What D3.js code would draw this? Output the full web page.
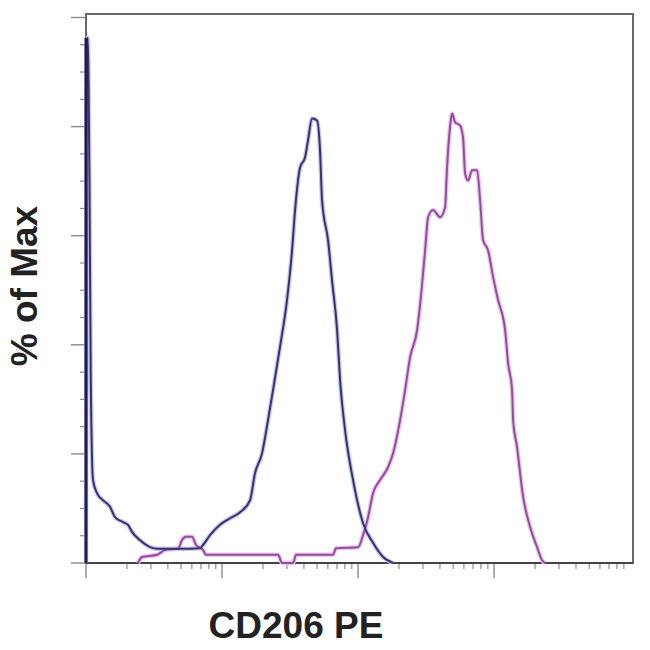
<!DOCTYPE html>
<html><head><meta charset="utf-8">
<script src="https://cdn.jsdelivr.net/npm/d3@7"></script>
<style>body{margin:0;background:#fff}</style>
</head><body>
<svg id="c" width="650" height="650"></svg>
<script>
// Control (blue) histogram: channel value, % of max
const blueX = [10, 10.1, 10.3, 10.6, 10.85, 11.26, 12.05, 13.34, 15.02, 16.34, 18.71, 20.36, 21.8, 24.9, 29.6, 33.3, 49.1, 68.9, 72.5, 81.6, 96.7, 114.5, 135.6, 160.6, 174.9, 196.8, 217.8, 237.1, 266.8, 300.3, 327.2, 344.3, 374.7, 407.8, 428.9, 459.0, 499.6, 525.5, 543.6, 601.5, 643.8, 701.3, 737.8, 802.0, 918.9, 1088, 1289, 1527, 1809];
const blueY = [0, 94, 96.3, 70, 33, 15.2, 12.8, 11.5, 10.3, 8.4, 7.5, 7.0, 5.7, 4.2, 2.9, 2.6, 2.6, 2.7, 3.3, 5.1, 7.0, 8.2, 9.3, 11.5, 16.5, 20.1, 26.2, 31.7, 39.6, 48.2, 57.3, 64.7, 72.5, 74.4, 77.5, 81.5, 81.1, 75.6, 66.5, 59.2, 51.8, 42.7, 33.5, 24.4, 15.2, 7.3, 3.7, 1.1, 0];
// CD206 PE (magenta) histogram
const pinkX = [24.1, 25.8, 33.3, 38.1, 47.5, 50.8, 54.3, 60.1, 64.4, 72.5, 76.2, 258.2, 276.2, 332.7, 350.1, 654.9, 689, 1000, 1088, 1185, 1289, 1451, 1663, 1809, 2037, 2218, 2412, 2716, 2857, 3111, 3274, 3560, 4009, 4364, 4510, 4745, 4910, 5166, 5623, 5916, 6124, 6441, 6891, 7500, 7890, 8300, 9035, 9840, 10700, 12050, 12680, 13560, 13800, 14760, 15530, 16070, 18400, 20720, 22540, 23710];
const pinkY = [0, 1.1, 1.5, 2.4, 2.6, 4.2, 4.8, 4.8, 3.3, 2.4, 1.5, 1.5, 0, 0, 1.5, 1.5, 2.7, 2.9, 5.1, 8.4, 12.8, 15.2, 17.6, 20.1, 26.2, 31.7, 37.7, 42.7, 47.3, 57.3, 63.4, 64.7, 63.4, 65.2, 72.5, 79.9, 82.4, 80.8, 80.2, 78.0, 71.4, 70.1, 72.0, 72.0, 66.5, 59.2, 57.3, 52.4, 48.2, 42.7, 36.6, 31.7, 26.2, 21.2, 16.5, 13.4, 6.6, 2.9, 0.5, 0];

const xMajor = [10, 100, 1000, 10000];
const xMinorMult = [2, 3, 4, 5, 6, 7, 8, 9];
const yMajor = [0, 20, 40, 60, 80, 100];
const yMinorStep = 5;

const xLabel = "CD206 PE";
const yLabel = "% of Max";

const svg = d3.select("#c");
const L = 86, R = 633, T = 14, B = 563;
const x = d3.scaleLog().domain([10, 105000]).range([L, R]);
const y = d3.scaleLinear().domain([0, 100]).range([B, 17.5]);

// minor ticks
const xMinor = [];
xMajor.forEach(m => xMinorMult.forEach(k => xMinor.push(m * k)));
const gx = svg.append("g");
gx.selectAll(".xmi").data(xMinor).enter().append("line")
  .attr("x1", d => x(d)).attr("x2", d => x(d))
  .attr("y1", B).attr("y2", B + 6)
  .attr("stroke", "#8a8a8a").attr("stroke-width", 1.2);
gx.selectAll(".xma").data(xMajor).enter().append("line")
  .attr("x1", d => x(d)).attr("x2", d => x(d))
  .attr("y1", B).attr("y2", B + 15)
  .attr("stroke", "#8a8a8a").attr("stroke-width", 1.4);

const yMinor = d3.range(0, 100.01, yMinorStep).filter(v => !yMajor.includes(v));
const gy = svg.append("g");
gy.selectAll(".ymi").data(yMinor).enter().append("line")
  .attr("x1", L - 6).attr("x2", L)
  .attr("y1", d => y(d)).attr("y2", d => y(d))
  .attr("stroke", "#8a8a8a").attr("stroke-width", 1.2);
gy.selectAll(".yma").data(yMajor).enter().append("line")
  .attr("x1", L - 15).attr("x2", L)
  .attr("y1", d => y(d)).attr("y2", d => y(d))
  .attr("stroke", "#8a8a8a").attr("stroke-width", 1.4);

// frame
svg.append("rect").attr("x", L).attr("y", T).attr("width", R - L).attr("height", B - T)
  .attr("fill", "none").attr("stroke", "#6a6a6a").attr("stroke-width", 2);
svg.append("line").attr("x1", L).attr("x2", R).attr("y1", B).attr("y2", B)
  .attr("stroke", "#444").attr("stroke-width", 2);

const line = d3.line().x(d => x(d[0])).y(d => y(d[1])).curve(d3.curveMonotoneX);
const pinkData = pinkX.map((v, i) => [v, pinkY[i]]);
const blueData = blueX.map((v, i) => [v, blueY[i]]);

// halos
svg.append("path").datum(pinkData).attr("d", line)
  .attr("fill", "none").attr("stroke", "#e6c8ec").attr("stroke-width", 4.5).attr("stroke-linejoin", "round");
svg.append("path").datum(blueData).attr("d", line)
  .attr("fill", "none").attr("stroke", "#c8c8f0").attr("stroke-width", 4.5).attr("stroke-linejoin", "round");
svg.append("path").datum(pinkData).attr("d", line)
  .attr("fill", "none").attr("stroke", "#9a4a9e").attr("stroke-width", 2).attr("stroke-linejoin", "round");
svg.append("path").datum(blueData).attr("d", line)
  .attr("fill", "none").attr("stroke", "#34346c").attr("stroke-width", 2).attr("stroke-linejoin", "round");

// left axis line (dark)
svg.append("line").attr("x1", L).attr("x2", L).attr("y1", B).attr("y2", y(blueY[2]))
  .attr("stroke", "#1c1c50").attr("stroke-width", 3);

// labels
svg.append("text").attr("x", 296).attr("y", 638).attr("text-anchor", "middle")
  .attr("font-family", "Liberation Sans, Arial, sans-serif").attr("font-weight", "bold")
  .attr("font-size", 37).attr("fill", "#222").text(xLabel);
svg.append("text").attr("transform", "translate(37,286) rotate(-90)").attr("text-anchor", "middle")
  .attr("font-family", "Liberation Sans, Arial, sans-serif").attr("font-weight", "bold")
  .attr("font-size", 37).attr("fill", "#222").text(yLabel);
</script>
</body></html>
